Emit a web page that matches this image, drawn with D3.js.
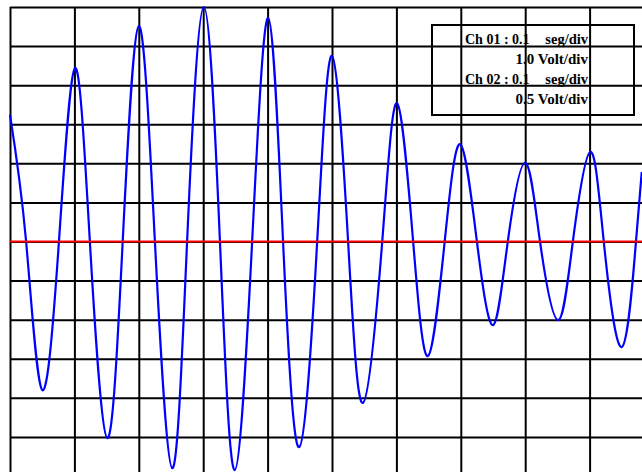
<!DOCTYPE html>
<html>
<head>
<meta charset="utf-8">
<script src="https://cdn.jsdelivr.net/npm/d3@7"></script>
<style>
  html, body { margin: 0; padding: 0; background: #ffffff; }
  svg { display: block; }
</style>
</head>
<body>
<script>
// ---------- data ----------
// time (s), 0.1 s/div, 10 divisions
const xTicks = [0, 0.1, 0.2, 0.3, 0.4, 0.5, 0.6, 0.7, 0.8, 0.9, 1.0];
// volts, 1.0 V/div, 12 divisions
const yTicks = [-6, -5, -4, -3, -2, -1, 0, 1, 2, 3, 4, 5, 6];
const refLevel = [0];

// trace samples
const times = [0.000, 0.025, 0.050, 0.076, 0.101, 0.124, 0.151, 0.175, 0.200, 0.225,
               0.252, 0.275, 0.301, 0.326, 0.349, 0.376, 0.401, 0.424, 0.449, 0.477,
               0.500, 0.525, 0.548, 0.578, 0.601, 0.626, 0.649, 0.675, 0.699, 0.725,
               0.750, 0.773, 0.800, 0.823, 0.851, 0.874, 0.901, 0.922, 0.950, 0.972,
               0.981];
const volts = [3.24, 0.0, -3.80, 0.0, 4.44, 0.0, -5.03, 0.0, 5.51, 0.0,
               -5.80, 0.0, 6.00, 0.0, -5.85, 0.0, 5.72, 0.0, -5.26, 0.0,
               4.75, 0.0, -4.13, 0.0, 3.54, 0.0, -2.93, 0.0, 2.49, 0.0,
               -2.14, 0.0, 2.01, 0.0, -2.01, 0.0, 2.29, 0.0, -2.70, 0.0,
               1.78];

const legendLeft = ["Ch 01 : 0.1", "Ch 02 : 0.1"];
const legendUnit = ["seg/div", "seg/div"];
const legendVolt = ["1.0 Volt/div", "0.5 Volt/div"];

// ---------- layout ----------
const W = 642, H = 472;
const x0 = 10, x1 = 654, yTop = 7, yBot = 476;

const svg = d3.select("body").append("svg")
  .attr("width", W).attr("height", H);
svg.append("rect").attr("width", W).attr("height", H).attr("fill", "#fff");

const x = d3.scaleLinear().domain([0, 1.0]).range([x0, x1]);
const y = d3.scaleLinear().domain([-6, 6]).range([yBot, yTop]);

// vertical grid
const gx = svg.append("g").attr("transform", `translate(0,${yTop})`)
  .call(d3.axisTop(x).tickValues(xTicks).tickSize(-(yBot - yTop)).tickFormat(""));
gx.select(".domain").remove();
gx.selectAll(".tick line").attr("stroke", "#000").attr("stroke-width", 2);

// horizontal grid
const gy = svg.append("g").attr("transform", `translate(${x0},0)`)
  .call(d3.axisLeft(y).tickValues(yTicks).tickSize(-(x1 - x0)).tickFormat(""));
gy.select(".domain").remove();
gy.selectAll(".tick line").attr("stroke", "#000").attr("stroke-width", 2);

// legend box
const lg = svg.append("g");
lg.append("rect").attr("x", 432).attr("y", 25).attr("width", 202).attr("height", 90)
  .attr("fill", "none").attr("stroke", "#000").attr("stroke-width", 2);
const font = "'Liberation Serif', 'Times New Roman', serif";
legendLeft.forEach((t, i) => {
  const by = 44 + i * 40;
  lg.append("text").attr("x", 465).attr("y", by).text(t)
    .attr("font-family", font).attr("font-weight", "bold").attr("font-size", 14);
  lg.append("text").attr("x", 588).attr("y", by).attr("text-anchor", "end").text(legendUnit[i])
    .attr("font-family", font).attr("font-weight", "bold").attr("font-size", 14.5);
  lg.append("text").attr("x", 588).attr("y", by + 20).attr("text-anchor", "end").text(legendVolt[i])
    .attr("font-family", font).attr("font-weight", "bold").attr("font-size", 15);
});

// trace
const pts = times.map((t, i) => [t, volts[i]]);
const line = d3.line().x(d => x(d[0])).y(d => y(d[1])).curve(d3.curveNatural);
svg.append("path").datum(pts).attr("d", line)
  .attr("fill", "none").attr("stroke", "#0000ff").attr("stroke-width", 2.2)
  .attr("stroke-linejoin", "round");

// reference level
svg.selectAll(".ref").data(refLevel).enter().append("line").attr("class", "ref")
  .attr("x1", x0).attr("x2", W).attr("y1", d => y(d)).attr("y2", d => y(d))
  .attr("stroke", "#ff0000").attr("stroke-width", 2);
</script>
</body>
</html>
